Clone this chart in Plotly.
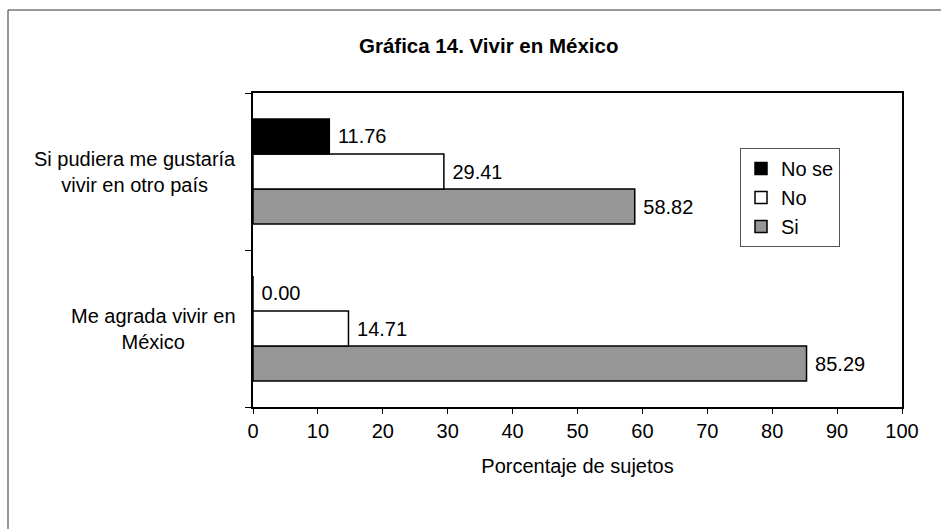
import plotly.graph_objects as go

# ---- data ----
categories = ["Me agrada vivir en México", "Si pudiera me gustaría vivir en otro país"]
category_labels = ["Me agrada vivir en<br>México", "Si pudiera me gustaría<br>vivir en otro país"]
series_names = ["Si", "No", "No se"]
si_values = [85.29, 58.82]
no_values = [14.71, 29.41]
nose_values = [0.00, 11.76]
x_ticks = [0, 10, 20, 30, 40, 50, 60, 70, 80, 90, 100]

title_text = "<b>Gráfica 14. Vivir en México</b>"
x_title = "Porcentaje de sujetos"

FONT = "Liberation Sans, Arial, sans-serif"
W, H = 941, 529
ML, MR, MT, MB = 253, 39, 93, 122
PW = W - ML - MR
PH = H - MT - MB


def px_x(p):
    return (p - ML) / PW


def px_y(p):
    return (H - MB - p) / PH


colors = {"Si": "#969696", "No": "#ffffff", "No se": "#000000"}
values = {"Si": si_values, "No": no_values, "No se": nose_values}

fig = go.Figure()
for name in series_names:
    fig.add_trace(go.Bar(
        name=name,
        y=categories,
        x=values[name],
        orientation="h",
        marker=dict(color=colors[name], line=dict(color="#000000", width=1.5)),
        texttemplate=" %{x:.2f}",
        textposition="outside",
        textfont=dict(family=FONT, size=20, color="#000000"),
        cliponaxis=False,
        constraintext="none",
        hoverinfo="skip",
    ))

annotations = [
    dict(text=title_text, xref="paper", yref="paper", x=px_x(488.5), y=px_y(45),
         xanchor="center", yanchor="middle", showarrow=False,
         font=dict(family=FONT, size=20.5, color="#000000")),
]
for cat, lab in zip(categories, category_labels):
    annotations.append(dict(text=lab, xref="paper", yref="y", x=px_x(238), y=cat,
                            xanchor="right", yanchor="middle", align="center", showarrow=False,
                            font=dict(family=FONT, size=20, color="#000000")))

shapes = [
    dict(type="rect", xref="paper", yref="paper",
         x0=px_x(8), x1=px_x(960), y0=px_y(560), y1=px_y(10),
         line=dict(color="#333333", width=1), fillcolor="rgba(0,0,0,0)", layer="below"),
]

fig.update_layout(
    width=W, height=H,
    margin=dict(l=ML, r=MR, t=MT, b=MB, autoexpand=False),
    paper_bgcolor="#ffffff", plot_bgcolor="#ffffff",
    font=dict(family=FONT, size=20, color="#000000"),
    barmode="group", bargap=0.331, bargroupgap=0,
    showlegend=True,
    legend=dict(x=px_x(740), y=px_y(148), xanchor="left", yanchor="top",
                traceorder="reversed", bgcolor="#ffffff", bordercolor="#555555", borderwidth=1,
                font=dict(family=FONT, size=20, color="#000000"), itemwidth=30,
                itemclick=False, itemdoubleclick=False),
    annotations=annotations,
    shapes=shapes,
    xaxis=dict(range=[0, 100], tickvals=x_ticks, ticktext=[str(t) for t in x_ticks],
               ticks="outside", ticklen=5, tickwidth=1, tickcolor="#000000",
               showgrid=False, zeroline=False, showline=True, mirror=True,
               linecolor="#000000", linewidth=2,
               tickfont=dict(family=FONT, size=20, color="#000000"),
               title=dict(text=x_title, standoff=18, font=dict(family=FONT, size=20, color="#000000"))),
    yaxis=dict(type="category", categoryorder="array", categoryarray=categories,
               tickson="boundaries", ticks="outside", ticklen=6, tickwidth=1, tickcolor="#000000",
               showticklabels=False, showgrid=False, zeroline=False,
               showline=True, mirror=True, linecolor="#000000", linewidth=2),
)

fig.write_html("out.html")
